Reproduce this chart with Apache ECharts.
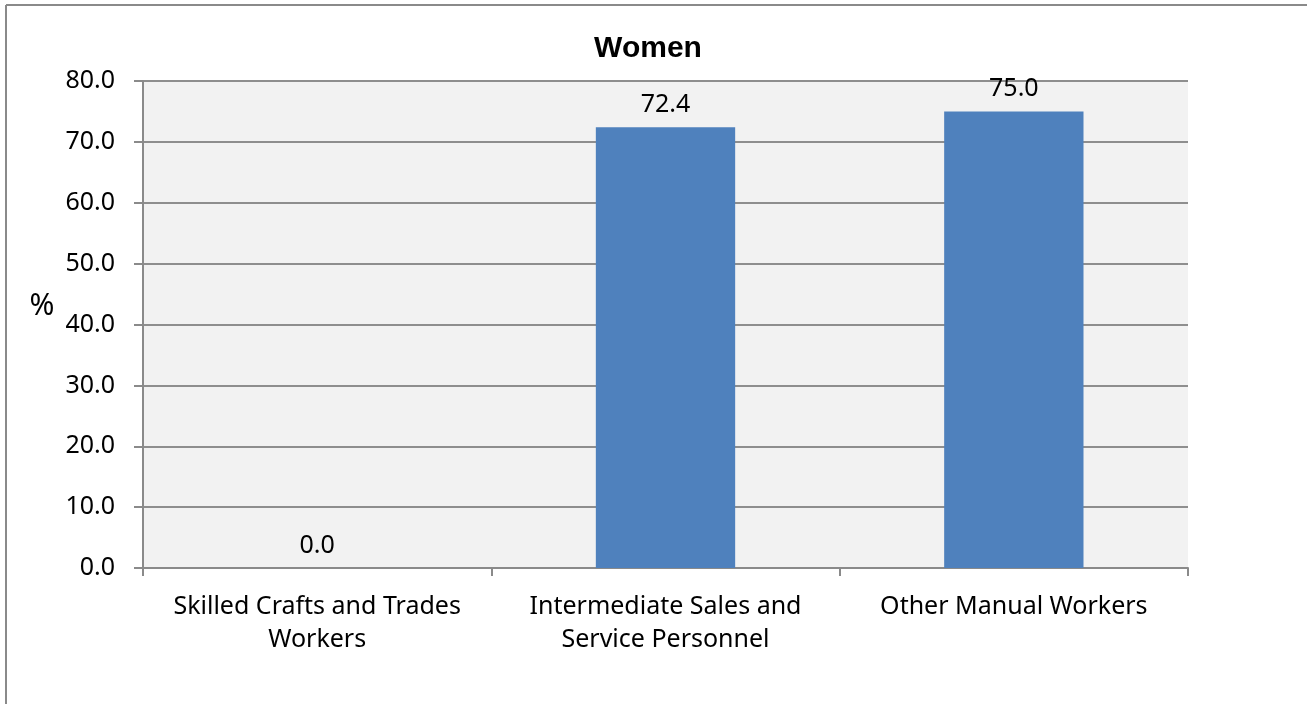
<!DOCTYPE html>
<html>
<head>
<meta charset="utf-8">
<script src="https://cdn.jsdelivr.net/npm/echarts@6/dist/echarts.min.js"></script>
<style>
html,body{margin:0;padding:0;background:#fff;}
#c{width:1307px;height:704px;}
</style>
</head>
<body>
<div id="c"></div>
<script>
const categories = ["Skilled Crafts and Trades\nWorkers", "Intermediate Sales and\nService Personnel", "Other Manual Workers"];
const values = [0.0, 72.4, 75.0];
const yTicks = [0, 10, 20, 30, 40, 50, 60, 70, 80];
const chartTitle = "Women";
const yName = "%";

const font = "'Noto Sans', 'Open Sans', sans-serif";
const chart = echarts.init(document.getElementById('c'));
chart.setOption({
  animation: false,
  backgroundColor: '#ffffff',
  title: {
    text: chartTitle,
    left: 643, top: 29, textAlign: 'center',
    textStyle: {fontFamily: "'Liberation Sans', Arial, sans-serif", fontWeight: 'bold', fontSize: 30, color: '#000'}
  },
  graphic: [
    {type: 'line', shape: {x1: 6, y1: 5, x2: 1307, y2: 5}, style: {stroke: '#8a8a8a', lineWidth: 2}},
    {type: 'line', shape: {x1: 6, y1: 5, x2: 6, y2: 704}, style: {stroke: '#8a8a8a', lineWidth: 2}},
    {type: 'text', x: 42, y: 306, style: {text: yName, fontFamily: font, fontSize: 30, fill: '#000', textAlign: 'center', textVerticalAlign: 'middle'}}
  ],
  grid: {
    left: 143, right: 119, top: 81, bottom: 136,
    show: true, backgroundColor: '#f2f2f2', borderWidth: 0
  },
  xAxis: {
    type: 'category',
    data: categories,
    axisLine: {lineStyle: {color: '#8a8a8a', width: 2}},
    axisTick: {show: true, length: 8, lineStyle: {color: '#8a8a8a', width: 2}},
    axisLabel: {fontFamily: font, fontSize: 25, color: '#000', margin: 22, lineHeight: 33, interval: 0}
  },
  yAxis: {
    type: 'value',
    min: yTicks[0], max: yTicks[yTicks.length - 1], interval: 10,
    axisLine: {show: true, lineStyle: {color: '#8a8a8a', width: 2}},
    axisTick: {show: true, length: 9, lineStyle: {color: '#8a8a8a', width: 2}},
    splitLine: {show: true, lineStyle: {color: '#8e8e8e', width: 2}},
    axisLabel: {fontFamily: font, fontSize: 25, color: '#000', margin: 28, formatter: v => v.toFixed(1)}
  },
  series: [{
    type: 'bar',
    data: values,
    barWidth: '40%',
    itemStyle: {color: '#4f81bd'},
    label: {show: true, position: 'top', distance: 10, fontFamily: font, fontSize: 25, color: '#000', formatter: p => p.value.toFixed(1)}
  }]
});
</script>
</body>
</html>
